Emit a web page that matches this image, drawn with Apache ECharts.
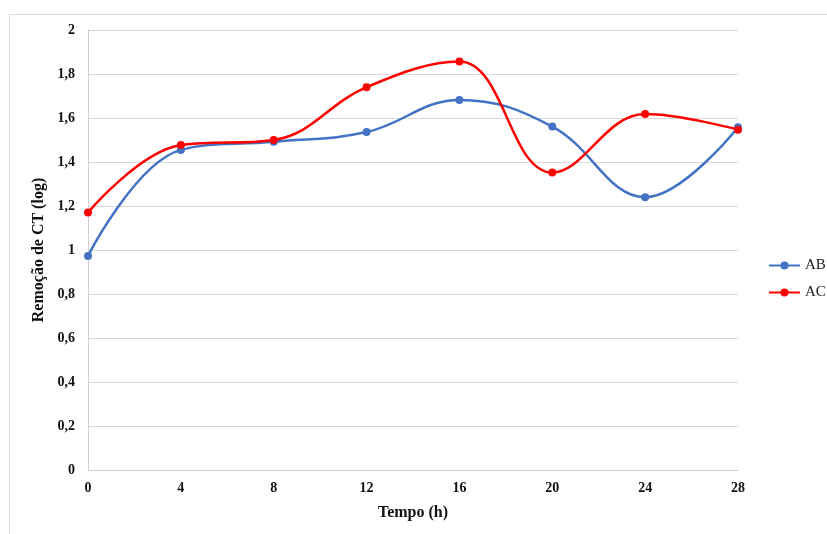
<!DOCTYPE html>
<html><head><meta charset="utf-8">
<script src="https://cdn.jsdelivr.net/npm/echarts@6/dist/echarts.min.js"></script>
<style>html,body{margin:0;padding:0;background:#fff}#c{width:827px;height:534px}</style>
</head><body><div id="c"></div>
<script>
const times = [0, 4, 8, 12, 16, 20, 24, 28];
const ab = [0.973, 1.455, 1.492, 1.536, 1.682, 1.561, 1.240, 1.558];
const ac = [1.170, 1.477, 1.500, 1.740, 1.857, 1.352, 1.618, 1.547];
const yTicks = ['0','0,2','0,4','0,6','0,8','1','1,2','1,4','1,6','1,8','2'];

const chart = echarts.init(document.getElementById('c'));
const font = '"Liberation Serif", "Times New Roman", serif';
chart.setOption({
  animation: false,
  graphic: [{type:'rect', shape:{x:9.5,y:14.5,width:830,height:540}, style:{fill:'none',stroke:'#d9d9d9',lineWidth:1}}],
  grid: {left: 88, right: 89, top: 30, bottom: 64},
  legend: {
    orient: 'vertical', left: 768, top: 258, itemGap: 12, itemWidth: 31, itemHeight: 10,
    padding: 0,
    textStyle: {fontFamily: font, fontSize: 15, color: '#222'},
    data: ['AB','AC']
  },
  xAxis: {
    type: 'value', min: 0, max: 28, interval: 4,
    name: 'Tempo (h)', nameLocation: 'middle', nameGap: 35,
    nameTextStyle: {fontFamily: font, fontSize: 16, fontWeight: 'bold', color: '#111'},
    axisLine: {lineStyle: {color: '#d0d0d0', width: 1}},
    axisTick: {show: false},
    splitLine: {show: false},
    axisLabel: {fontFamily: font, fontSize: 14, fontWeight: 'bold', color: '#111', margin: 11}
  },
  yAxis: {
    type: 'value', min: 0, max: 2, interval: 0.2,
    name: 'Remoção de CT (log)', nameLocation: 'middle', nameGap: 39,
    nameTextStyle: {fontFamily: font, fontSize: 16, fontWeight: 'bold', color: '#111'},
    axisLine: {show: true, lineStyle: {color: '#d0d0d0', width: 1}},
    axisTick: {show: false},
    splitLine: {lineStyle: {color: '#d9d9d9', width: 1}},
    axisLabel: {fontFamily: font, fontSize: 14, fontWeight: 'bold', color: '#111', margin: 13,
      formatter: v => yTicks[Math.round(v / 0.2)]}
  },
  series: [
    {name: 'AB', type: 'line', smooth: 0.4, data: times.map((t,i)=>[t, ab[i]]),
     symbol: 'circle', symbolSize: 8, lineStyle: {color: '#4472c4', width: 2.5}, itemStyle: {color: '#4472c4'}},
    {name: 'AC', type: 'line', smooth: 0.4, data: times.map((t,i)=>[t, ac[i]]),
     symbol: 'circle', symbolSize: 8, lineStyle: {color: '#ff0000', width: 2.5}, itemStyle: {color: '#ff0000'}}
  ]
});
</script></body></html>
